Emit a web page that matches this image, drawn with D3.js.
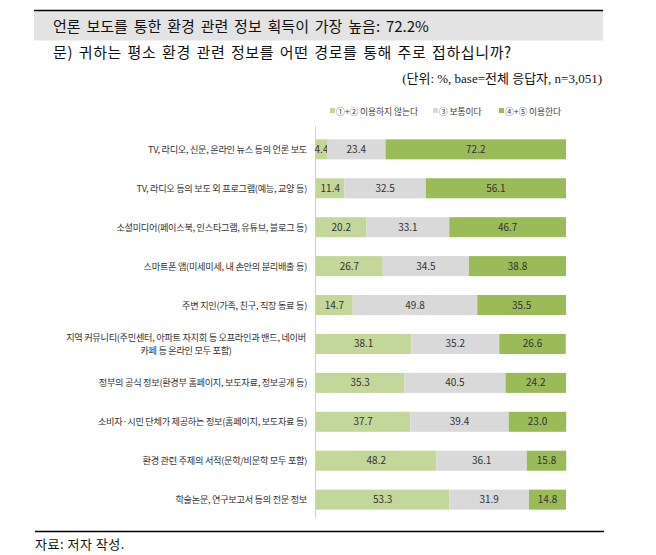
<!DOCTYPE html>
<html><head><meta charset="utf-8">
<script src="https://cdn.jsdelivr.net/npm/d3@7"></script>
<style>body{margin:0;background:#fff}</style>
</head><body><div id="chart"></div>
<script>
const categories = [
  ["TV, 라디오, 신문, 온라인 뉴스 등의 언론 보도"],
  ["TV, 라디오 등의 보도 외 프로그램(예능, 교양 등)"],
  ["소셜미디어(페이스북,  인스타그램, 유튜브, 블로그 등)"],
  ["스마트폰 앱(미세미세, 내 손안의 분리배출 등)"],
  ["주변 지인(가족, 친구, 직장 동료 등)"],
  ["지역 커뮤니티(주민센터, 아파트 자치회 등 오프라인과 밴드, 네이버", "카페 등 온라인 모두 포함)"],
  ["정부의 공식 정보(환경부 홈페이지, 보도자료, 정보공개 등)"],
  ["소비자·시민 단체가 제공하는 정보(홈페이지, 보도자료 등)"],
  ["환경 관련 주제의 서적(문학/비문학 모두 포함)"],
  ["학술논문, 연구보고서 등의 전문 정보"]
];
const notUse  = [4.4, 11.4, 20.2, 26.7, 14.7, 38.1, 35.3, 37.7, 48.2, 53.3];
const neutral = [23.4, 32.5, 33.1, 34.5, 49.8, 35.2, 40.5, 39.4, 36.1, 31.9];
const use     = [72.2, 56.1, 46.7, 38.8, 35.5, 26.6, 24.2, 23.0, 15.8, 14.8];
const seriesNames = ["①+② 이용하지 않는다", "③ 보통이다", "④+⑤ 이용한다"];
const colors = ["#c4d79b", "#d9d9d9", "#9bbb59"];

const W = 656, H = 555;
const svg = d3.select("#chart").append("svg").attr("width", W).attr("height", H);
const sans = "'Noto Sans CJK KR', 'Noto Sans', sans-serif";
const serif = "'Liberation Serif', 'Noto Sans CJK KR', serif";

// header
svg.append("rect").attr("x", 34).attr("y", 10.5).attr("width", 569).attr("height", 30).attr("fill", "#e3e3e3");
svg.append("line").attr("x1", 34).attr("x2", 603).attr("y1", 10.5).attr("y2", 10.5).attr("stroke", "#000").attr("stroke-width", 1.5);
svg.append("text").attr("x", 53).attr("y", 32).attr("font-family", sans).attr("font-size", 15)
  .attr("letter-spacing", 0).attr("word-spacing", 2.5).attr("fill", "#111")
  .text("언론 보도를 통한 환경 관련 정보 획득이 가장 높음: 72.2%");
svg.append("text").attr("x", 53).attr("y", 58).attr("font-family", sans).attr("font-size", 15)
  .attr("letter-spacing", 0.6).attr("word-spacing", 1.7).attr("fill", "#111")
  .text("문) 귀하는 평소 환경 관련 정보를 어떤 경로를 통해 주로 접하십니까?");
svg.append("text").attr("x", 602).attr("y", 83).attr("text-anchor", "end").attr("font-family", serif).attr("font-size", 13).attr("fill", "#111")
  .text("(단위: %, base=전체 응답자, n=3,051)");

// data table
const rows = categories.map((c, i) => ({label: c, vals: [notUse[i], neutral[i], use[i]], idx: i}));
const stack = d3.stack().keys([0, 1, 2]).value((d, k) => d.vals[k])(rows);

const x = d3.scaleLinear().domain([0, 100]).range([316, 566]);
const y = d3.scaleBand().domain(d3.range(rows.length)).range([130, 519]).paddingInner(0.485).paddingOuter(0.24);

// legend
const legX = [330, 433, 499];
seriesNames.forEach((n, k) => {
  svg.append("rect").attr("x", legX[k]).attr("y", 108).attr("width", 5).attr("height", 5).attr("fill", colors[k]);
  svg.append("text").attr("x", legX[k] + 6).attr("y", 114.5).attr("font-family", sans).attr("font-size", 8.8)
    .attr("letter-spacing", -0.1).attr("fill", "#404040").text(n);
});

// axis line
svg.append("line").attr("x1", 315.5).attr("x2", 315.5).attr("y1", 126).attr("y2", 518).attr("stroke", "#d0d0d0").attr("stroke-width", 1);

// bars
const g = svg.append("g");
stack.forEach((layer, k) => {
  g.selectAll(null).data(layer).enter().append("rect")
    .attr("x", d => x(d[0])).attr("width", d => x(d[1]) - x(d[0]))
    .attr("y", (d, i) => y(i)).attr("height", y.bandwidth())
    .attr("fill", colors[k]);
  g.selectAll(null).data(layer).enter().append("text")
    .attr("x", d => (x(d[0]) + x(d[1])) / 2).attr("y", (d, i) => y(i) + y.bandwidth() / 2 + 3.5)
    .attr("text-anchor", "middle").attr("font-family", sans).attr("font-size", 10).attr("fill", "#333")
    .text(d => (d[1] - d[0]).toFixed(1));
});

// category labels
rows.forEach((r, i) => {
  const cy = y(i) + y.bandwidth() / 2;
  if (r.label.length === 1) {
    svg.append("text").attr("x", 307).attr("y", cy + 3.5).attr("text-anchor", "end")
      .attr("font-family", sans).attr("font-size", 9.2).attr("letter-spacing", -0.3).attr("fill", "#333").text(r.label[0]);
  } else {
    r.label.forEach((t, j) => {
      svg.append("text").attr("x", 186).attr("y", cy - 3 + j * 13.5).attr("text-anchor", "middle")
        .attr("font-family", sans).attr("font-size", 9.2).attr("letter-spacing", -0.3).attr("fill", "#333").text(t);
    });
  }
});

// footer
svg.append("line").attr("x1", 35).attr("x2", 604).attr("y1", 531.5).attr("y2", 531.5).attr("stroke", "#000").attr("stroke-width", 1.5);
svg.append("text").attr("x", 35).attr("y", 549).attr("font-family", sans).attr("font-size", 13).attr("letter-spacing", 0.5).attr("fill", "#111").text("자료: 저자 작성.");
</script></body></html>
